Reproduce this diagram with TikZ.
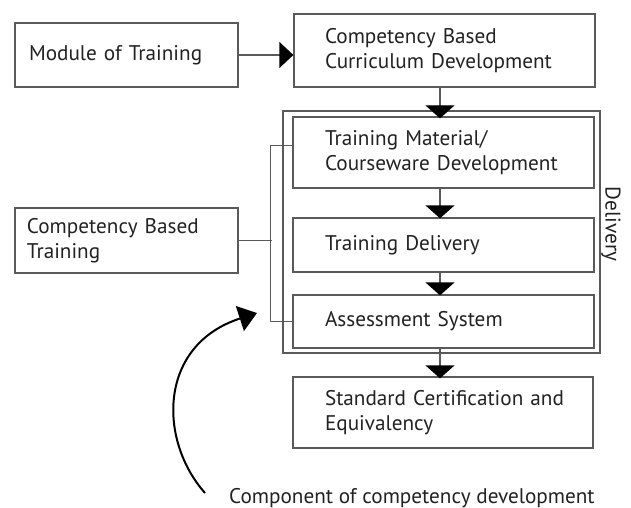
\documentclass[tikz,border=0pt]{standalone}
\usepackage{fontspec}
\setmainfont{PT Sans}
\usetikzlibrary{arrows.meta,calc}
\definecolor{txt}{HTML}{222222}
\definecolor{ln}{HTML}{5A5A5A}
\tikzset{
  fnt/.style={font=\fontsize{21.2}{25.5}\selectfont},
  box/.style={draw=ln, line width=1.3pt, rectangle, align=left, text=txt,
    fnt, inner ysep=0pt},
  tri/.style={-{Triangle[length=13pt,width=29pt,color=black]}},
  trih/.style={-{Triangle[length=14pt,width=26pt,color=black]}},
  conn/.style={draw=ln, line width=1.3pt},
}
\begin{document}
\begin{tikzpicture}[x=1pt,y=-1pt]
\useasboundingbox[fill=white] (0,0) rectangle (631,508);
% boxes
\node[box, minimum width=223pt, minimum height=64pt, inner xsep=14pt, text width=195pt] (mod) at (126.5,55) {Module of Training};
\node[box, minimum width=301pt, minimum height=73pt, inner xsep=31pt, text width=239pt] (cbcd) at (444.5,50.5) {Competency Based\\Curriculum Development};
\node[draw=ln, line width=1.3pt, rectangle, minimum width=317pt, minimum height=242pt, inner sep=0pt] (dbox) at (441.5,232) {};
\node[box, minimum width=301pt, minimum height=71pt, inner xsep=32pt, text width=237pt] (tmcd) at (443.5,152.5) {Training Material/\\Courseware Development};
\node[box, minimum width=301pt, minimum height=54pt, inner xsep=32pt, text width=237pt] (td) at (443.5,245) {Training Delivery};
\node[box, minimum width=301pt, minimum height=53pt, inner xsep=32pt, text width=237pt] (as) at (443.5,321.5) {Assessment System};
\node[box, minimum width=300pt, minimum height=71pt, inner xsep=27pt, text width=246pt] (sc) at (443,412.5) {\hspace*{5pt}Standard Certification and\\\hspace*{5pt}Equivalency};
\node[box, minimum width=223pt, minimum height=65pt, inner xsep=12pt, text width=199pt] (cbt) at (126.5,240.5) {Competency Based\\Training};
% labels
\node[text=txt, fnt, rotate=-90, inner sep=0pt] (dlab) at (611,224) {Delivery};
\node[text=txt, fnt, anchor=base west, inner sep=0pt] (cap) at (229,503) {Component of competency development};
% arrows
\coordinate (ax) at (440,0);
\draw[conn, trih] (mod.east) -- (mod.east -| cbcd.west);
\draw[conn, tri] (cbcd.south -| ax) -- ([yshift=-2pt]tmcd.north -| ax);
\draw[conn, tri] (tmcd.south -| ax) -- ([yshift=-1pt]td.north -| ax);
\draw[conn, tri] (td.south -| ax) -- ([yshift=-1pt]as.north -| ax);
\draw[conn, tri] (as.south -| ax) -- ([yshift=-2pt]sc.north -| ax);
% bracket
\draw[conn] (cbt.east) -- ++(33,0);
\draw[conn] ($(tmcd.north west)+(0,29)$) -- ($(tmcd.north west)+(-22,29)$) -- ($(as.west)+(-22,0)$) -- (as.west);
% curved arrow
\coordinate (cs) at (205,493);
\coordinate (ce) at (257,313);
\draw[line width=2pt, -{Triangle[length=18pt,width=26pt]}] (cs) .. controls (158,440) and (158,345) .. (ce);
\end{tikzpicture}
\end{document}
